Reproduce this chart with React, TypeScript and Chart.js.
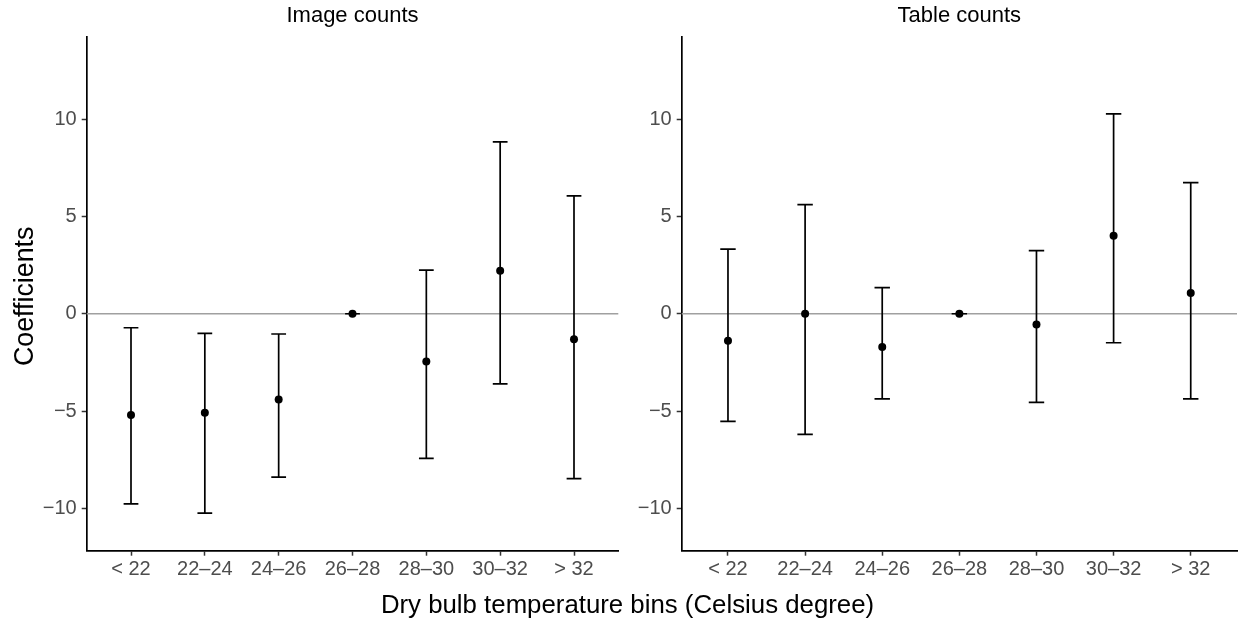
import React, { useEffect, useRef } from 'react';
import { Chart, registerables } from 'chart.js';

Chart.register(...registerables);

// ---- data ----
const CATEGORIES = ['< 22', '22–24', '24–26', '26–28', '28–30', '30–32', '> 32'];
const Y_TICKS = [-10, -5, 0, 5, 10];

const IMAGE_EST = [-5.2, -5.08, -4.4, 0, -2.45, 2.21, -1.31];
const IMAGE_LO = [-9.77, -10.24, -8.39, 0, -7.43, -3.6, -8.47];
const IMAGE_HI = [-0.72, -1.01, -1.04, 0, 2.24, 8.83, 6.05];

const TABLE_EST = [-1.39, 0.0, -1.71, 0, -0.55, 4.01, 1.06];
const TABLE_LO = [-5.53, -6.2, -4.37, 0, -4.55, -1.49, -4.37];
const TABLE_HI = [3.32, 5.6, 1.34, 0, 3.24, 10.27, 6.73];

const PANEL_TITLES = ['Image counts', 'Table counts'];
const X_TITLE = 'Dry bulb temperature bins (Celsius degree)';
const Y_TITLE = 'Coefficients';

// ---- layout / style ----
const W = 1241;
const H = 625;
const FONT = "'Liberation Sans', Arial, Helvetica, sans-serif";
const AREA_TOP = 36.7;
const AREA_BOTTOM = 550.7;
const Y_MIN = -12.17;
const Y_MAX = 14.23;
const X_MIN = -0.6;
const X_MAX = 6.6;

type Panel = {
  title: string;
  est: number[];
  lo: number[];
  hi: number[];
  left: number;
  right: number;
  withAxisTitles: boolean;
};

const PANELS: Panel[] = [
  { title: PANEL_TITLES[0], est: IMAGE_EST, lo: IMAGE_LO, hi: IMAGE_HI, left: 86.7, right: 618.3, withAxisTitles: true },
  { title: PANEL_TITLES[1], est: TABLE_EST, lo: TABLE_LO, hi: TABLE_HI, left: 681.7, right: 1241, withAxisTitles: false },
];

function fmtNum(v: number): string {
  return v < 0 ? '\u2212' + Math.abs(v) : String(v);
}

function makeChart(canvas: HTMLCanvasElement, p: Panel): Chart {
  const decor = {
    id: 'decor' + p.title.replace(/\s/g, ''),
    beforeDatasetsDraw(chart: any) {
      const { ctx, chartArea } = chart;
      const xs = chart.scales.x;
      const ys = chart.scales.y;
      ctx.save();
      // zero reference line
      const y0 = ys.getPixelForValue(0);
      ctx.strokeStyle = '#a0a0a0';
      ctx.lineWidth = 1.5;
      ctx.beginPath();
      ctx.moveTo(chartArea.left, y0);
      ctx.lineTo(chartArea.right, y0);
      ctx.stroke();
      // error bars
      const half = 0.1 * (xs.getPixelForValue(1) - xs.getPixelForValue(0));
      ctx.strokeStyle = '#000';
      ctx.lineWidth = 1.7;
      ctx.lineCap = 'butt';
      for (let i = 0; i < p.est.length; i++) {
        const x = xs.getPixelForValue(i);
        const yl = ys.getPixelForValue(p.lo[i]);
        const yh = ys.getPixelForValue(p.hi[i]);
        ctx.beginPath();
        ctx.moveTo(x, yl);
        ctx.lineTo(x, yh);
        ctx.moveTo(x - half, yl);
        ctx.lineTo(x + half, yl);
        ctx.moveTo(x - half, yh);
        ctx.lineTo(x + half, yh);
        ctx.stroke();
      }
      ctx.restore();
    },
    afterDraw(chart: any) {
      const { ctx, chartArea } = chart;
      ctx.save();
      ctx.fillStyle = '#000';
      ctx.textAlign = 'center';
      ctx.textBaseline = 'alphabetic';
      ctx.font = `22px ${FONT}`;
      ctx.fillText(p.title, (chartArea.left + chartArea.right) / 2, 21.7);
      if (p.withAxisTitles) {
        ctx.font = `25.8px ${FONT}`;
        ctx.fillText(X_TITLE, 627.5, 613);
        ctx.translate(33.3, 296.3);
        ctx.rotate(-Math.PI / 2);
        ctx.font = `26.8px ${FONT}`;
        ctx.fillText(Y_TITLE, 0, 0);
      }
      ctx.restore();
    },
  };

  return new Chart(canvas, {
    type: 'scatter',
    data: {
      datasets: [
        {
          data: p.est.map((v, i) => ({ x: i, y: v })),
          backgroundColor: '#000',
          borderColor: '#000',
          borderWidth: 0,
          pointRadius: 4,
          showLine: false,
        },
      ],
    },
    options: {
      responsive: false,
      animation: false,
      devicePixelRatio: 1,
      events: [],
      layout: {
        padding: { left: 0, right: W - p.right, top: AREA_TOP, bottom: 0 },
      },
      plugins: {
        legend: { display: false },
        tooltip: { enabled: false },
        title: { display: false },
      },
      scales: {
        x: {
          type: 'linear',
          min: X_MIN,
          max: X_MAX,
          afterBuildTicks: (axis: any) => {
            axis.ticks = CATEGORIES.map((_, i) => ({ value: i }));
          },
          afterFit: (axis: any) => {
            axis.height = H - AREA_BOTTOM;
          },
          grid: {
            display: true,
            drawOnChartArea: false,
            drawTicks: true,
            tickLength: 5,
            tickWidth: 1.5,
            tickColor: '#333333',
          },
          border: { display: true, color: '#000', width: 1.7 },
          ticks: {
            autoSkip: false,
            maxRotation: 0,
            minRotation: 0,
            padding: 2,
            color: '#4d4d4d',
            font: { family: FONT, size: 20 },
            callback: (v: any) => CATEGORIES[Math.round(Number(v))] ?? '',
          },
        },
        y: {
          type: 'linear',
          min: Y_MIN,
          max: Y_MAX,
          afterBuildTicks: (axis: any) => {
            axis.ticks = Y_TICKS.map((v) => ({ value: v }));
          },
          afterFit: (axis: any) => {
            axis.width = p.left;
          },
          grid: {
            display: true,
            drawOnChartArea: false,
            drawTicks: true,
            tickLength: 5,
            tickWidth: 1.5,
            tickColor: '#333333',
          },
          border: { display: true, color: '#000', width: 1.7 },
          ticks: {
            padding: 5,
            color: '#4d4d4d',
            font: { family: FONT, size: 20 },
            callback: (v: any) => fmtNum(Number(v)),
          },
        },
      },
    },
    plugins: [decor],
  } as any);
}

export default function App() {
  const leftRef = useRef<HTMLCanvasElement>(null);
  const rightRef = useRef<HTMLCanvasElement>(null);

  useEffect(() => {
    const charts: Chart[] = [];
    if (leftRef.current) charts.push(makeChart(leftRef.current, PANELS[0]));
    if (rightRef.current) charts.push(makeChart(rightRef.current, PANELS[1]));
    return () => charts.forEach((c) => c.destroy());
  }, []);

  const canvasStyle: React.CSSProperties = {
    position: 'absolute',
    left: 0,
    top: 0,
    width: W,
    height: H,
  };

  return (
    <div style={{ position: 'absolute', left: 0, top: 0, width: W, height: H, background: '#fff' }}>
      <canvas ref={leftRef} width={W} height={H} style={canvasStyle} />
      <canvas ref={rightRef} width={W} height={H} style={canvasStyle} />
    </div>
  );
}
